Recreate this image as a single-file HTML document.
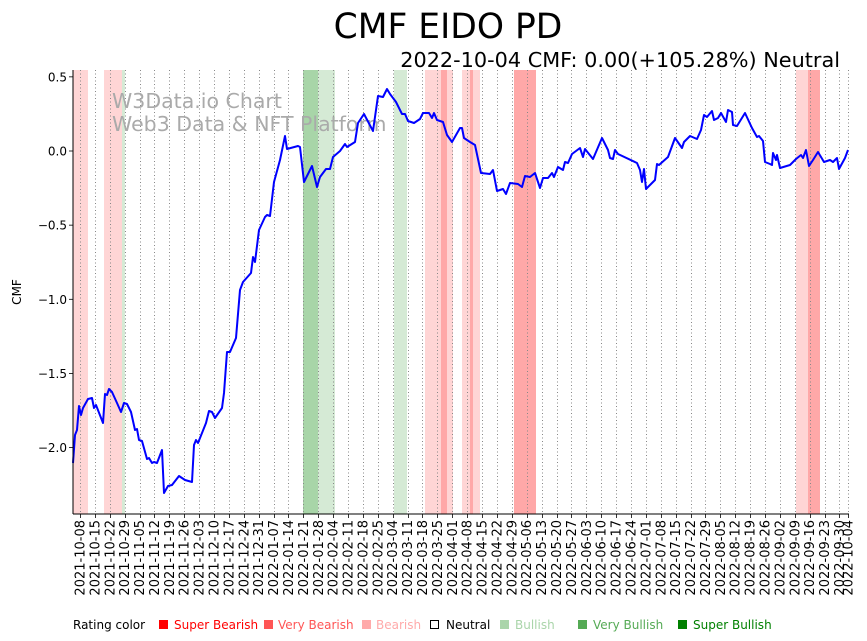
<!DOCTYPE html>
<html><head><meta charset="utf-8">
<style>
body{margin:0;background:#fff;}
svg{display:block;font-family:"DejaVu Sans","Liberation Sans",sans-serif;}
</style></head>
<body>
<svg id="s" width="867" height="641" viewBox="0 0 867 641" xmlns="http://www.w3.org/2000/svg">
<rect width="867" height="641" fill="#fff"/>
<g id="bands">
<rect x="73" y="70" width="15" height="444" fill="#ffd5d5"/>
<rect x="104" y="70" width="18" height="444" fill="#ffd5d5"/>
<rect x="122" y="70" width="3" height="444" fill="#d5ead5"/>
<rect x="303" y="70" width="15" height="444" fill="#a8d5a8"/>
<rect x="318" y="70" width="17" height="444" fill="#d5ead5"/>
<rect x="394" y="70" width="13" height="444" fill="#d5ead5"/>
<rect x="425" y="70" width="16" height="444" fill="#ffd5d5"/>
<rect x="441" y="70" width="6" height="444" fill="#ffa8a8"/>
<rect x="447" y="70" width="6" height="444" fill="#ffd5d5"/>
<rect x="462" y="70" width="8" height="444" fill="#ffd5d5"/>
<rect x="470" y="70" width="3" height="444" fill="#ffa8a8"/>
<rect x="473" y="70" width="7" height="444" fill="#ffd5d5"/>
<rect x="514" y="70" width="22" height="444" fill="#ffa8a8"/>
<rect x="796" y="70" width="12" height="444" fill="#ffd5d5"/>
<rect x="808" y="70" width="12" height="444" fill="#ffa8a8"/>
</g>
<g id="grid"></g>
<text x="112" y="108" font-size="20.5" fill="#aaa">W3Data.io Chart</text>
<text x="112" y="131" font-size="20.5" fill="#aaa">Web3 Data &amp; NFT Platform</text>
<polyline fill="none" stroke="#0000ff" stroke-width="2" stroke-linejoin="round" points="
73,463 75,435 77,430 79,406 81,415 83,408 88,399 92,398 94,408 96,405 103,423 105,394 107,395 109,389 112,392 117,403 121,412 124,403 127,404 131,412 135,430 137,429 139,440 142,441 147,459 149,458 152,463 154,462 157,463 162,450 164,493 168,486 172,485 179,476 185,480 192,482 194,445 196,440 198,443 200,438 206,423 209,411 212,412 215,418 222,408 224,393 227,352 230,352 236,338 240,290 243,282 251,273 253,257 255,262 259,230 265,217 267,215 270,216 274,182 280,160 285,136 287,149 298,146 300,147 304,182 312,166 317,187 320,177 326,169 330,169 333,157 340,151 345,144 347,147 355,142 358,123 364,114 373,131 378,96 383,97 387,89 390,94 396,102 402,114 405,114 408,121 414,123 420,119 423,113 429,113 432,118 434,113 437,120 443,122 447,135 452,142 460,128 462,128 464,138 470,142 475,145 481,173 490,174 493,170 497,191 503,189 506,194 510,183 518,184 522,187 525,176 530,177 535,173 540,188 543,178 548,178 552,173 554,177 558,167 563,170 565,162 568,163 572,154 580,148 583,157 585,149 593,159 596,152 602,138 608,150 610,158 613,159 615,150 618,154 637,163 640,170 642,182 644,169 646,189 655,180 657,164 659,165 668,157 675,138 682,148 684,142 690,136 697,139 701,130 704,115 707,117 712,111 714,120 718,118 721,113 726,122 728,110 732,112 733,125 737,126 745,113 752,128 757,137 759,136 763,141 765,162 770,164 772,165 773,153 776,160 777,155 780,168 790,165 796,159 801,155 803,158 806,150 809,166 813,160 818,152 824,162 830,160 833,162 837,158 839,169 845,158 848,150"/>
<line x1="73" y1="70" x2="73" y2="514" stroke="#000" stroke-width="1"/>
<line x1="73" y1="514" x2="849" y2="514" stroke="#000" stroke-width="1"/>
<g id="yt" font-size="12" text-anchor="end"></g>
<g id="xt" font-size="13"></g>
<text transform="translate(21,292) rotate(-90)" font-size="12" text-anchor="middle">CMF</text>
<text x="448" y="38" font-size="34.5" text-anchor="middle">CMF EIDO PD</text>
<text x="840" y="67" font-size="20.8" text-anchor="end">2022-10-04 CMF: 0.00(+105.28%) Neutral</text>
<g font-size="12">
<text x="73" y="629">Rating color</text>
<rect x="159" y="620" width="9" height="9" fill="#ff0000"/><text x="174" y="629" fill="#ff0000">Super Bearish</text>
<rect x="264" y="620" width="9" height="9" fill="#ff5555"/><text x="278" y="629" fill="#ff5555">Very Bearish</text>
<rect x="362" y="620" width="9" height="9" fill="#ffaaaa"/><text x="376" y="629" fill="#ffaaaa">Bearish</text>
<rect x="430.5" y="620.5" width="8" height="8" fill="none" stroke="#000"/><text x="446" y="629">Neutral</text>
<rect x="500" y="620" width="9" height="9" fill="#aad5aa"/><text x="515" y="629" fill="#aad5aa">Bullish</text>
<rect x="578" y="620" width="9" height="9" fill="#55aa55"/><text x="593" y="629" fill="#55aa55">Very Bullish</text>
<rect x="678" y="620" width="9" height="9" fill="#008000"/><text x="693" y="629" fill="#008000">Super Bullish</text>
</g>
</svg>
<script>
var NS="http://www.w3.org/2000/svg";
function el(p,t,a,txt){var e=document.createElementNS(NS,t);for(var k in a)e.setAttribute(k,a[k]);if(txt)e.textContent=txt;p.appendChild(e);return e;}
var g=document.getElementById('grid'),xt=document.getElementById('xt'),yt=document.getElementById('yt');
var start=Date.UTC(2021,9,8),ppd=2.1273;
function fmt(d){var dt=new Date(d);return dt.getUTCFullYear()+"-"+String(dt.getUTCMonth()+1).padStart(2,"0")+"-"+String(dt.getUTCDate()).padStart(2,"0");}
var days=[];for(var k=0;k<=51;k++)days.push(k*7);days.push(361);
days.forEach(function(d){var x=80+d*ppd;var xs=Math.round(x)+0.5;
el(g,'line',{x1:xs,y1:70,x2:xs,y2:514,stroke:'#888','stroke-width':1,'stroke-dasharray':'1,2.5'});
el(g,'line',{x1:xs,y1:514,x2:xs,y2:518,stroke:'#000','stroke-width':0.8});
el(xt,'text',{transform:'translate('+(x+4.5)+',520) rotate(-90)','text-anchor':'end'},fmt(start+d*86400000));});
[[0.5,"0.5"],[0,"0.0"],[-0.5,"\u22120.5"],[-1,"\u22121.0"],[-1.5,"\u22121.5"],[-2,"\u22122.0"]].forEach(function(v){var y=151-148.3*v[0];
el(yt,'line',{x1:69,y1:y,x2:73,y2:y,stroke:'#000','stroke-width':0.8});
el(yt,'text',{x:67,y:y+4.5},v[1]);});
</script>
</body></html>
